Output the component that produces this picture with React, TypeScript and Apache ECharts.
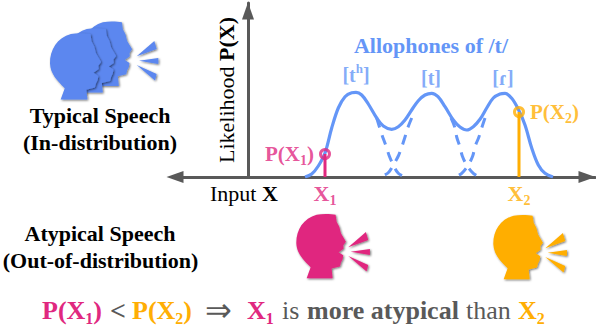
import React, { useEffect, useRef } from "react";
import * as echarts from "echarts";

const envelope = [[57,0],[63.7,3],[70.3,11],[77,24],[83.7,49],[90.3,69],[97,80.3],[103.7,84.3],[108,84.7],[113.7,82],[120.3,73],[128.7,59],[135.3,51],[143.7,47.7],[150.3,50.3],[157,57],[163.7,67],[170.3,76.3],[177,82],[183.7,83.7],[190,80.3],[197,70.3],[205.3,57],[212,50],[218.7,47],[225.3,50.3],[232,57.7],[238.7,69],[245.3,79],[252,83],[257,83.7],[263.7,78.7],[270.3,67.7],[277,52],[283.7,29],[290.3,12],[297,3.7],[305,0]];
const firstFall = [[128.7,59],[134,42],[138,31],[141.3,21],[145.3,12],[150.3,3.7],[157,0]];
const secondRise = [[163.7,59],[159.7,49],[157,40],[153.7,30],[150.3,21],[145.3,12],[140,4],[132,0]];
const secondFall = [[203,59],[207,49],[208.7,40],[212,30],[214.3,21],[218.7,12],[225.3,3.7],[232,0]];
const thirdRise = [[237,59],[233.7,49],[231,40.3],[227,30.3],[224.7,21],[220.3,12],[213.7,3.7],[207,0]];
const stemX1 = [[77,0],[77,23]];
const stemX2 = [[271,0],[271,65]];
const allophonePeaks = [[108,85],[183,85],[255,85]];
const allophoneLabels = ["{b|[t}{s|h}{b|]}", "{b|[t]}", "{b|[ɾ]}"];
const equationTexts = ["{p|P(X}{ps|1}{p|)}", "{lt|<}", "{o|P(X}{os|2}{o|)}", "{a|⇒}", "{p|X}{ps|1}", "{g|is}", "{gb|more atypical}", "{g|than}", "{o|X}{os|2}"];
const equationStarts = [42, 110, 132, 205, 247, 282, 307, 466, 518];

const BLUE = "#6496f7";
const HEAD_BLUE = "#5b87ef";
const PINK = "#e0287f";
const ORANGE = "#ffae03";
const AXIS = "#595959";
const SERIF = "'Liberation Serif', serif";

const HEAD_PATH = "M50 205 L62 172 C40 150 20 130 19 100 C18 60 40 25 80 14 C100 10 125 12 137 14 L140 35 L148 50 L153 70 L168 95 L160 106 L161 116 L146 127 L160 136 L158 148 L153 158 L150 170 L125 176 L128 205 Z";
echarts.graphic.registerShape("speakerHead", echarts.graphic.extendPath(HEAD_PATH, {}));

function sub(color: string, fontSize = 14, fontWeight = "bold") {
  return { fontFamily: SERIF, fontSize, fontWeight, color, padding: [13, 0, 0, 0] };
}
function big(color: string, fontSize = 21, fontWeight = "bold") {
  return { fontFamily: SERIF, fontSize, fontWeight, color };
}

const shadow = { shadowBlur: 2, shadowColor: "rgba(0,0,0,0.55)", shadowOffsetX: 1, shadowOffsetY: 1 };

function rays(color: string, x: number, y: number) {
  const polys = [
    [[175, 112], [228, 66], [235, 90]],
    [[182, 125], [240, 117], [240, 135]],
    [[175, 138], [235, 165], [230, 185]],
  ];
  return {
    type: "group", x, y, scaleX: 1 / 3, scaleY: 1 / 3,
    children: polys.map((points) => ({ type: "polygon", shape: { points }, style: { fill: color, ...shadow } })),
  };
}
function head(color: string, x: number, y: number, s = 1 / 3) {
  return { type: "speakerHead", x, y, scaleX: s, scaleY: s, style: { fill: color, ...shadow } };
}
function caption(text: string, x: number, y: number) {
  return {
    type: "text", x, y,
    style: { text, fontFamily: SERIF, fontSize: 22, fontWeight: "bold", fill: "#000", align: "center", verticalAlign: "middle" },
  };
}
const equationRich = {
  p: { fontFamily: SERIF, fontSize: 26, fontWeight: "bold", fill: PINK },
  ps: { fontFamily: SERIF, fontSize: 16, fontWeight: "bold", fill: PINK, padding: [16, 0, 0, 0] },
  o: { fontFamily: SERIF, fontSize: 26, fontWeight: "bold", fill: ORANGE },
  os: { fontFamily: SERIF, fontSize: 16, fontWeight: "bold", fill: ORANGE, padding: [16, 0, 0, 0] },
  lt: { fontFamily: SERIF, fontSize: 28, fontWeight: "bold", fill: AXIS },
  g: { fontFamily: SERIF, fontSize: 26, fill: AXIS },
  gb: { fontFamily: SERIF, fontSize: 26, fontWeight: "bold", fill: AXIS },
  a: { fontFamily: "'DejaVu Sans'", fontSize: 32, fill: AXIS },
};

export default function App() {
  const ref = useRef<HTMLDivElement>(null);
  useEffect(() => {
    document.body.style.margin = "0";
    document.body.style.background = "#fff";
    const chart = echarts.init(ref.current!, undefined, { renderer: "svg" });
    const dashed = (data: number[][]) => ({
      type: "line", data, smooth: 0.35, showSymbol: false, silent: true, z: 2,
      lineStyle: { color: BLUE, width: 3, type: [10, 8] },
    });
    const stem = (data: number[][], color: string) => ({
      type: "line", data, showSymbol: false, silent: true, z: 4, lineStyle: { color, width: 3 },
    });
    chart.setOption({
      animation: false,
      backgroundColor: "#fff",
      grid: { left: 183, top: 3, width: 412, height: 174, containLabel: false },
      xAxis: {
        type: "value", min: -65, max: 347,
        splitLine: { show: false }, axisTick: { show: false }, axisLabel: { show: false },
        axisLine: { onZero: true, symbol: ["triangle", "triangle"], symbolSize: [12, 17], symbolOffset: [-8, -8], lineStyle: { color: AXIS, width: 3 } },
      },
      yAxis: {
        type: "value", min: 0, max: 174,
        splitLine: { show: false }, axisTick: { show: false }, axisLabel: { show: false },
        axisLine: { onZero: true, symbol: ["none", "triangle"], symbolSize: [12, 17], symbolOffset: [0, -8], lineStyle: { color: AXIS, width: 3 } },
        name: "{n|Likelihood }{b|P(X)}",
        nameLocation: "middle",
        nameGap: -54,
        nameRotate: 90,
        nameTextStyle: { rich: { n: { fontFamily: SERIF, fontSize: 22, color: "#000" }, b: big("#000", 22) } },
      },
      series: [
        { type: "line", data: envelope, smooth: 0.35, showSymbol: false, silent: true, z: 3, lineStyle: { color: BLUE, width: 3.2 } },
        dashed(firstFall), dashed(secondRise), dashed(secondFall), dashed(thirdRise),
        stem(stemX1, PINK), stem(stemX2, ORANGE),
        {
          type: "scatter", silent: true, z: 5, symbolSize: 9,
          itemStyle: { color: "rgba(255,255,255,0)", borderWidth: 3 },
          data: [
            { value: stemX1[1], itemStyle: { borderColor: PINK, color: "rgba(255,255,255,0)", borderWidth: 3 },
              label: { show: true, position: "left", distance: 5, formatter: "{b|P(X}{s|1}{b|)}", rich: { b: big(PINK), s: sub(PINK) } } },
            { value: stemX2[1], itemStyle: { borderColor: ORANGE, color: "rgba(255,255,255,0)", borderWidth: 3 },
              label: { show: true, position: "right", distance: 5, formatter: "{b|P(X}{s|2}{b|)}", rich: { b: big(ORANGE), s: sub(ORANGE) } } },
          ],
        },
        {
          type: "scatter", silent: true, symbolSize: 0, z: 5,
          data: [
            { value: stemX1[0], label: { show: true, position: "bottom", distance: 3, formatter: "{b|X}{s|1}", rich: { b: big(PINK, 22), s: sub(PINK) } } },
            { value: stemX2[0], label: { show: true, position: "bottom", distance: 3, formatter: "{b|X}{s|2}", rich: { b: big(ORANGE, 22), s: sub(ORANGE) } } },
          ],
        },
        {
          type: "scatter", silent: true, symbolSize: 0, z: 5,
          data: allophonePeaks.map((value, i) => ({
            value,
            label: {
              show: true, position: "top", distance: 4, formatter: allophoneLabels[i],
              rich: { b: big(BLUE, 20), s: { ...big(BLUE, 13), padding: [0, 0, 13, 0] } },
            },
          })),
        },
      ],
      graphic: [
        head(HEAD_BLUE, 76.2, 17.7), head(HEAD_BLUE, 60.2, 24.3), head(HEAD_BLUE, 43.5, 29.3, 0.343),
        rays(HEAD_BLUE, 78.4, 19),
        head(PINK, 290, 210), rays(PINK, 290, 210),
        head(ORANGE, 487, 211), rays(ORANGE, 487, 211),
        caption("Typical Speech", 100, 115),
        caption("(In-distribution)", 100, 142),
        caption("Atypical Speech", 100, 233),
        caption("(Out-of-distribution)", 100.5, 260),
        { type: "text", x: 431, y: 45, style: { text: "Allophones of /t/", fontFamily: SERIF, fontSize: 22, fontWeight: "bold", fill: BLUE, align: "center", verticalAlign: "middle" } },
        {
          type: "text", x: 210, y: 193,
          style: {
            text: "{n|Input }{b|X}", verticalAlign: "middle",
            rich: { n: { fontFamily: SERIF, fontSize: 22, fill: "#000" }, b: { fontFamily: SERIF, fontSize: 22, fontWeight: "bold", fill: "#000" } },
          },
        },
        ...equationTexts.map((text, i) => ({
          type: "text", x: equationStarts[i], y: 310,
          style: { text, verticalAlign: "middle", rich: equationRich },
        })),
      ],
    });
    return () => chart.dispose();
  }, []);
  return <div ref={ref} style={{ width: 596, height: 328 }} />;
}
